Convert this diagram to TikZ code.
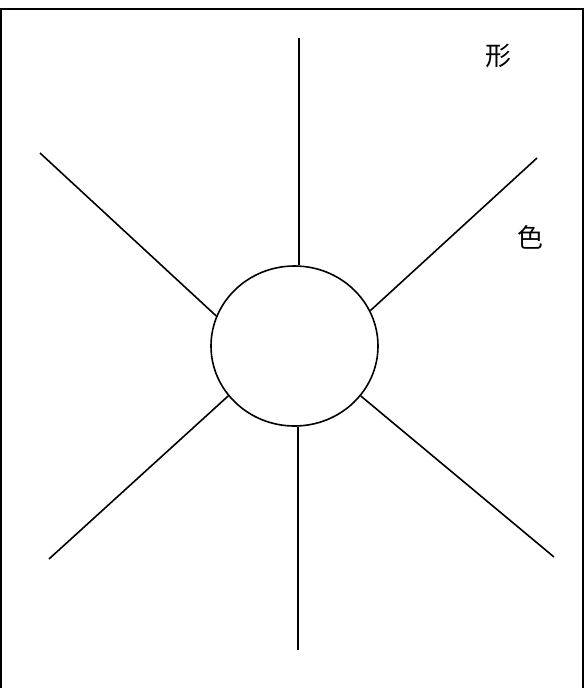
\documentclass[tikz,border=0pt]{standalone}
\usepackage{fontspec}
\newfontfamily\cjk{Noto Sans CJK JP}
\usetikzlibrary{shapes.geometric}
\begin{document}
\begin{tikzpicture}[x=1pt,y=-1pt,
  ray/.style={line width=1.6pt,black},
  frame/.style={line width=2pt,black},
  label/.style={font=\cjk\fontsize{26}{26}\selectfont,inner sep=0pt}]
\useasboundingbox (0,0) rectangle (587,688);
\draw[frame] (1.2,688) -- (1.2,9) -- (583,9) -- (583,688);
\node[ellipse,draw,line width=1.6pt,minimum width=167pt,minimum height=160pt,inner sep=0pt] (c) at (294.5,346) {};
\coordinate (t) at (298.7,37.5);
\coordinate (b) at (297.7,650);
\coordinate (ul) at (40,153);
\coordinate (ur) at (537,158);
\coordinate (ll) at (49,559);
\coordinate (lr) at (554,557);
\draw[ray] (t) -- (t |- c.north);
\draw[ray] (b) -- (b |- c.south);
\draw[ray] (ul) -- (c.159);
\draw[ray] (ur) -- (c.25.5);
\draw[ray] (ll) -- (c.217.7);
\draw[ray] (lr) -- (c.-37);
\node[label] (n1) at (498,56) {形};
\node[label] (n2) at (530,237) {色};
\end{tikzpicture}
\end{document}
